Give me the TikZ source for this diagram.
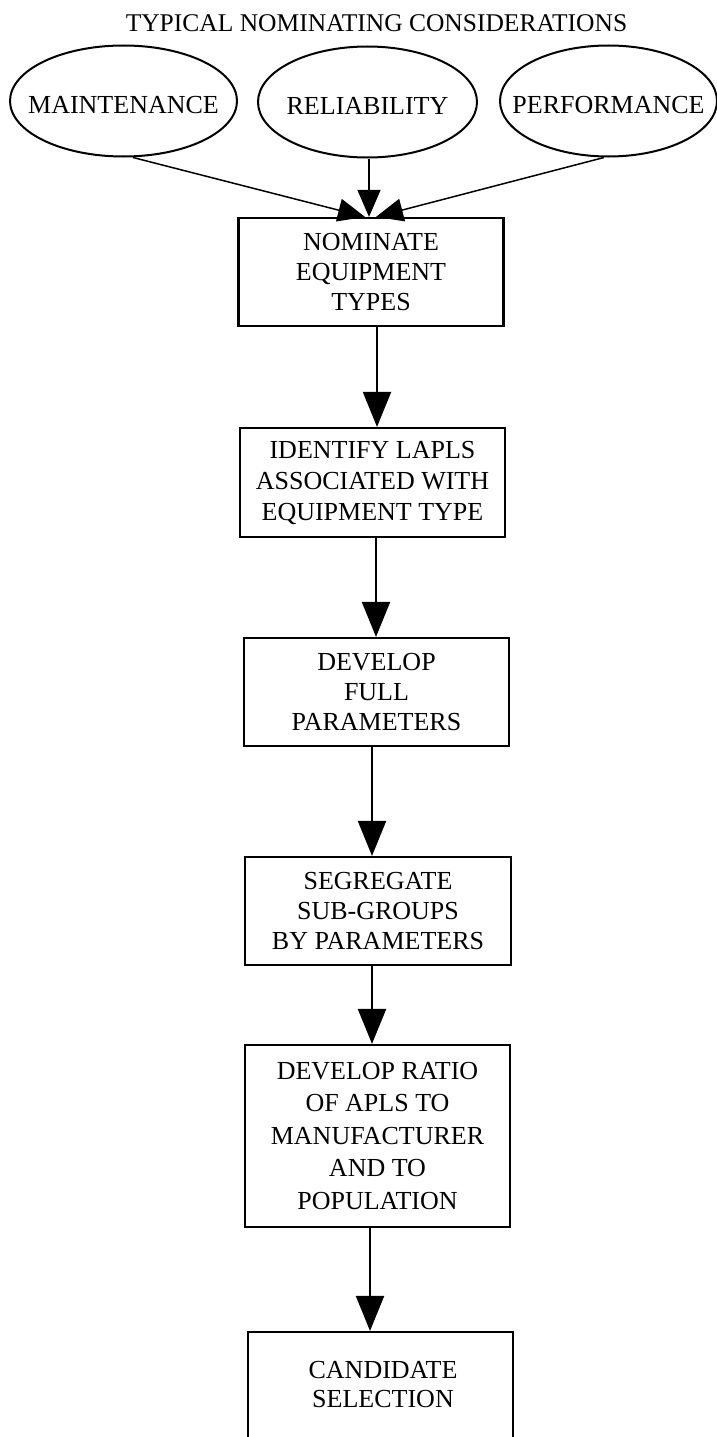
\documentclass[tikz,border=0pt]{standalone}
\usepackage{fontspec}
\setmainfont{Liberation Serif}
\usetikzlibrary{arrows.meta,shapes.geometric}

% zero-size label, so the ellipse keeps its own size; caps sit a little below centre
\newcommand{\flatlabel}[1]{\makebox[0pt]{\smash{\raisebox{-12.5pt}{#1}}}}

\begin{document}
\begin{tikzpicture}[x=1pt,y=-1pt,
  txt/.style={font=\fontsize{26}{30}\selectfont, align=center, inner sep=0pt},
  factor/.style={draw, ellipse, line width=2pt, minimum width=#1, minimum height=111pt,
                 inner sep=0pt, font=\fontsize{26}{30}\selectfont},
  stepbox/.style={draw, rectangle, line width=2.2pt, inner sep=0pt, align=center,
                  minimum width=265pt, font=\fontsize{26}{30}\selectfont},
  feed/.style={line width=1.5pt, -{Triangle[length=27pt,width=23pt]}},
  flow/.style={line width=2.2pt, -{Triangle[length=35pt,width=28pt]}}
]
\useasboundingbox (0,0) rectangle (717,1437);
\clip (0,0) rectangle (717,1437);

% heading
\node[txt, anchor=base, font=\fontsize{25.5}{30}\selectfont] (title) at (376.5,32)
  {TYPICAL NOMINATING CONSIDERATIONS};

% nominating considerations
\node[factor=227pt] (m) at (123.5,101) {\flatlabel{MAINTENANCE}};
\node[factor=219pt] (r) at (367.5,102) {\flatlabel{RELIABILITY}};
\node[factor=217pt] (p) at (608.5,101) {\flatlabel{PERFORMANCE}};

% process steps
\node[stepbox, minimum height=108pt] (b1) at (371,272)
  {NOMINATE\\EQUIPMENT\\TYPES};
\node[stepbox, minimum height=109pt, font=\fontsize{26}{31}\selectfont] (b2) at (372.5,482.5)
  {IDENTIFY LAPLS\\ASSOCIATED WITH\\EQUIPMENT TYPE};
\node[stepbox, minimum height=108pt] (b3) at (376.5,692)
  {DEVELOP\\FULL\\PARAMETERS};
\node[stepbox, minimum height=108pt, minimum width=266pt] (b4) at (378,911)
  {SEGREGATE\\SUB-GROUPS\\BY PARAMETERS};
\node[stepbox, minimum height=182pt, font=\fontsize{26}{32.5}\selectfont] (b5) at (377.5,1136)
  {DEVELOP RATIO\\OF APLS TO\\MANUFACTURER\\AND TO\\POPULATION};
\node[stepbox, minimum height=210pt] (b6) at (380.5,1437) {};
\node[txt, font=\fontsize{26}{29}\selectfont] (b6t) at (383,1385) {CANDIDATE\\SELECTION};

% considerations feeding the first step
\draw[feed] ([xshift=9.5pt]m.south) -- ([xshift=-6pt]b1.north);
\draw[feed] ([xshift=1.5pt]r.south) -- ([xshift=-2pt]b1.north);
\draw[feed] ([xshift=-4.5pt]p.south) -- ([xshift=5pt]b1.north);

% main flow
\draw[flow] ([xshift=6pt]b1.south) -- ([xshift=4.5pt]b2.north);
\draw[flow] ([xshift=3.5pt]b2.south) -- ([xshift=-0.5pt]b3.north);
\draw[flow] ([xshift=-4.5pt]b3.south) -- ([xshift=-6pt]b4.north);
\draw[flow] ([xshift=-6pt]b4.south) -- ([xshift=-5.5pt]b5.north);
\draw[flow] ([xshift=-7.5pt]b5.south) -- ([xshift=-10.5pt]b6.north);
\end{tikzpicture}
\end{document}
